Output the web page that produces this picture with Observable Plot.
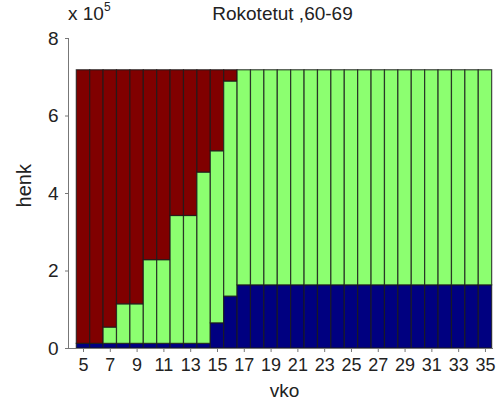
<!DOCTYPE html>
<html>
<head>
<meta charset="utf-8">
<script src="https://cdn.jsdelivr.net/npm/d3@7"></script>
<script src="https://cdn.jsdelivr.net/npm/@observablehq/plot@0.6"></script>
<style>
  html, body { margin: 0; padding: 0; background: #fff; }
  #chart { position: relative; width: 500px; height: 412px; font-family: "Liberation Sans", Arial, sans-serif; }
  #chart svg { position: absolute; left: 0; top: 0; }
  .ttl { position: absolute; left: 0; width: 565px; text-align: center; top: 3px; font-size: 19px; line-height: 22px; color: #222; z-index: 2; }
  .exp { position: absolute; left: 68px; top: 4px; font-size: 19px; line-height: 20px; color: #222; z-index: 2; }
  .exp sup { font-size: 12px; vertical-align: 9px; line-height: 0; }
</style>
</head>
<body>
<div id="chart">
  <div class="ttl">Rokotetut ,60-69</div>
  <div class="exp">x 10<sup>5</sup></div>
</div>
<script>
const weeks = d3.range(5, 36);
// values in units of 10^5
const blue = [0.12,0.12,0.12,0.12,0.12,0.12,0.12,0.12,0.12,0.12,0.65,1.34,
  1.63,1.63,1.63,1.63,1.63,1.63,1.63,1.63,1.63,1.63,1.63,1.63,1.63,1.63,1.63,1.63,1.63,1.63,1.63];
const greenTop = [0.12,0.12,0.54,1.14,1.14,2.28,2.28,3.42,3.42,4.54,5.09,6.89,
  7.18,7.18,7.18,7.18,7.18,7.18,7.18,7.18,7.18,7.18,7.18,7.18,7.18,7.18,7.18,7.18,7.18,7.18,7.18];
const total = 7.18;
const xTicks = d3.range(5, 36, 2);
const yTicks = [0, 2, 4, 6, 8];

const rows = [];
weeks.forEach((w, i) => {
  rows.push({week: w, group: "a", y1: 0, y2: blue[i]});
  rows.push({week: w, group: "b", y1: blue[i], y2: greenTop[i]});
  rows.push({week: w, group: "c", y1: greenTop[i], y2: total});
});

const plot = Plot.plot({
  width: 500,
  height: 412,
  marginLeft: 68,
  marginRight: 7,
  marginTop: 38,
  marginBottom: 64,
  style: {fontFamily: "Liberation Sans, Arial, sans-serif", fontSize: "16px", color: "#222", background: "#fff"},
  x: {domain: [3.88, 35.6], ticks: xTicks, tickFormat: d => String(d), label: null},
  y: {domain: [0, 8], ticks: yTicks, tickFormat: d => String(d), label: null},
  color: {domain: ["a", "b", "c"], range: ["#000080", "#8cff70", "#800000"]},
  marks: [
    Plot.rect(rows, {x1: d => d.week - 0.5, x2: d => d.week + 0.5, y1: "y1", y2: "y2", fill: "group", stroke: "#1a1a1a", strokeWidth: 1.2, strokeOpacity: 0.8}),
    Plot.ruleX([3.88], {stroke: "#777"}),
    Plot.ruleY([0], {stroke: "#777"}),
    Plot.axisX({ticks: xTicks, tickSize: 4, tickPadding: 6, stroke: "#777", fontSize: 18, tickFormat: d => String(d), label: null}),
    Plot.axisY({ticks: yTicks, tickSize: 3, tickPadding: 7, stroke: "#777", fontSize: 19, tickFormat: d => String(d), label: null}),
    Plot.text(["vko"], {frameAnchor: "bottom", dy: 48, fontSize: 19, x: 20, y: 0, textAnchor: "middle"}),
    Plot.text(["henk"], {x: 3.88, y: 4.2, dx: -44, rotate: -90, fontSize: 20})
  ]
});
document.getElementById("chart").appendChild(plot);
</script>
</body>
</html>
